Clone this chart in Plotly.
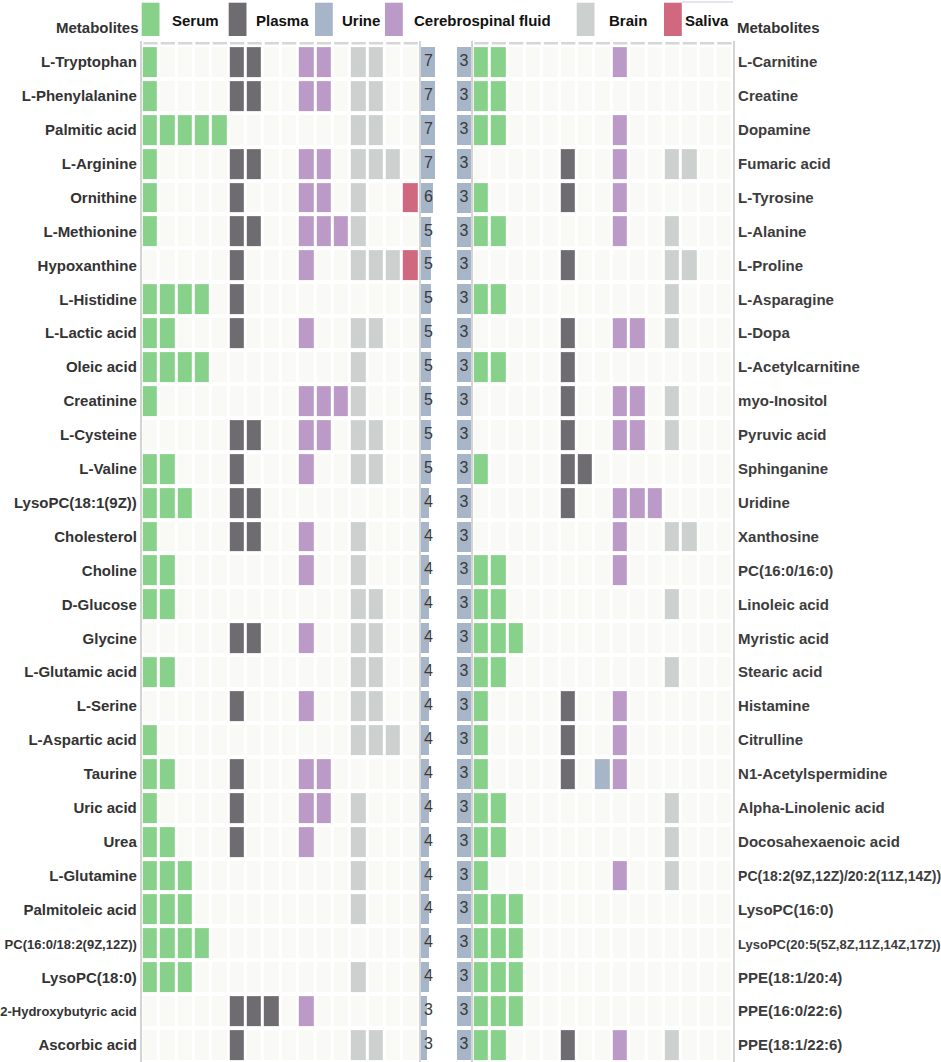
import plotly.graph_objects as go

W, H = 941, 1062
FONT = "Liberation Sans, Arial, Helvetica, sans-serif"

categories = ["Serum", "Plasma", "Urine", "Cerebrospinal fluid", "Brain", "Saliva"]
cat_colors = ["#88d18a", "#6f6c71", "#a7b5c8", "#bc9ac8", "#ccd1cf", "#d0687f"]
empty_color = "#f9f9f5"

# left block
left_names = ["L-Tryptophan", "L-Phenylalanine", "Palmitic acid", "L-Arginine", "Ornithine",
              "L-Methionine", "Hypoxanthine", "L-Histidine", "L-Lactic acid", "Oleic acid",
              "Creatinine", "L-Cysteine", "L-Valine", "LysoPC(18:1(9Z))", "Cholesterol",
              "Choline", "D-Glucose", "Glycine", "L-Glutamic acid", "L-Serine",
              "L-Aspartic acid", "Taurine", "Uric acid", "Urea", "L-Glutamine",
              "Palmitoleic acid", "PC(16:0/18:2(9Z,12Z))", "LysoPC(18:0)",
              "2-Hydroxybutyric acid", "Ascorbic acid"]
left_serum = [1, 1, 5, 1, 1, 1, 0, 4, 2, 4, 1, 0, 2, 3, 1, 2, 2, 0, 2, 0, 1, 2, 1, 2, 3, 3, 4, 3, 0, 0]
left_plasma = [2, 2, 0, 2, 1, 2, 1, 1, 1, 0, 0, 2, 1, 2, 2, 0, 0, 2, 0, 1, 0, 1, 1, 1, 0, 0, 0, 0, 3, 1]
left_urine = [0] * 30
left_csf = [2, 2, 0, 2, 2, 3, 1, 0, 1, 0, 3, 2, 1, 0, 1, 1, 0, 1, 0, 1, 0, 2, 2, 1, 0, 0, 0, 0, 1, 0]
left_brain = [2, 2, 2, 3, 1, 1, 3, 0, 2, 1, 1, 2, 2, 0, 1, 1, 2, 2, 2, 2, 3, 0, 1, 1, 1, 1, 0, 1, 0, 2]
left_saliva = [0, 0, 0, 0, 1, 0, 1] + [0] * 23
left_total = [7, 7, 7, 7, 6, 5, 5, 5, 5, 5, 5, 5, 5, 4, 4, 4, 4, 4, 4, 4, 4, 4, 4, 4, 4, 4, 4, 4, 3, 3]

# right block
right_names = ["L-Carnitine", "Creatine", "Dopamine", "Fumaric acid", "L-Tyrosine",
               "L-Alanine", "L-Proline", "L-Asparagine", "L-Dopa", "L-Acetylcarnitine",
               "myo-Inositol", "Pyruvic acid", "Sphinganine", "Uridine", "Xanthosine",
               "PC(16:0/16:0)", "Linoleic acid", "Myristic acid", "Stearic acid", "Histamine",
               "Citrulline", "N1-Acetylspermidine", "Alpha-Linolenic acid", "Docosahexaenoic acid",
               "PC(18:2(9Z,12Z)/20:2(11Z,14Z))", "LysoPC(16:0)",
               "LysoPC(20:5(5Z,8Z,11Z,14Z,17Z))", "PPE(18:1/20:4)", "PPE(16:0/22:6)",
               "PPE(18:1/22:6)"]
right_serum = [2, 2, 2, 0, 1, 2, 0, 2, 0, 2, 0, 0, 1, 0, 0, 2, 2, 3, 2, 1, 1, 1, 2, 2, 1, 3, 3, 3, 3, 2]
right_plasma = [0, 0, 0, 1, 1, 0, 1, 0, 1, 1, 1, 1, 2, 1, 0, 0, 0, 0, 0, 1, 1, 1, 0, 0, 0, 0, 0, 0, 0, 1]
right_urine = [0] * 21 + [1] + [0] * 8
right_csf = [1, 0, 1, 1, 1, 1, 0, 0, 2, 0, 2, 2, 0, 3, 1, 1, 0, 0, 0, 1, 1, 1, 0, 0, 1, 0, 0, 0, 0, 1]
right_brain = [0, 0, 0, 2, 0, 1, 2, 1, 1, 0, 1, 1, 0, 0, 2, 0, 1, 0, 1, 0, 0, 0, 1, 1, 1, 0, 0, 0, 0, 1]
right_saliva = [0] * 30
right_total = [3] * 30

# first slot of each category block
left_start = [0, 5, 8, 9, 12, 15]
right_start = [0, 5, 7, 8, 11, 14]
left_ncols, right_ncols = 16, 15

# long names are set smaller so they fit
small_labels = {"PC(16:0/18:2(9Z,12Z))": 13, "2-Hydroxybutyric acid": 13,
                "PC(18:2(9Z,12Z)/20:2(11Z,14Z))": 14, "LysoPC(20:5(5Z,8Z,11Z,14Z,17Z))": 13}


def build_z(counts, starts, ncols):
    z = [[0] * ncols for _ in range(len(counts[0]))]
    for k, (vals, start) in enumerate(zip(counts, starts)):
        for r, v in enumerate(vals):
            for j in range(v):
                z[r][start + j] = k + 1
    return z


def label(name):
    if name in small_labels:
        return "<span style='font-size:%spx'>%s</span>" % (small_labels[name], name)
    return name


def px(x):
    return x / W


def py(y):
    return 1 - y / H


left_z = build_z([left_serum, left_plasma, left_urine, left_csf, left_brain, left_saliva],
                 left_start, left_ncols)
right_z = build_z([right_serum, right_plasma, right_urine, right_csf, right_brain, right_saliva],
                  right_start, right_ncols)

palette = [empty_color] + cat_colors
cscale = []
for i, c in enumerate(palette):
    cscale += [[i / len(palette), c], [(i + 1) / len(palette), c]]

rows = list(range(len(left_names)))

fig = go.Figure()

for z, ncols, xa, ya in [(left_z, left_ncols, "x", "y"), (right_z, right_ncols, "x4", "y2")]:
    fig.add_trace(go.Heatmap(z=z, x=list(range(ncols)), y=rows, colorscale=cscale,
                             zmin=-0.5, zmax=len(palette) - 0.5, showscale=False,
                             xgap=3, ygap=4, hoverinfo="skip", xaxis=xa, yaxis=ya))
    # dashed top edge, one dash per column
    dx, dy = [], []
    for c in range(ncols):
        dx += [c - 0.41, c + 0.41, None]
        dy += [-0.55, -0.55, None]
    fig.add_trace(go.Scatter(x=dx, y=dy, mode="lines", line=dict(color="#d6d6d6", width=2.5),
                             hoverinfo="skip", xaxis=xa, yaxis=ya))

# count bars
fig.add_trace(go.Bar(x=left_total, y=rows, orientation="h", width=0.885,
                     marker=dict(color=cat_colors[2], line=dict(width=0)),
                     hoverinfo="skip", xaxis="x2", yaxis="y"))
fig.add_trace(go.Scatter(x=[3.6] * len(rows), y=rows, mode="text", text=[str(v) for v in left_total],
                         textfont=dict(family=FONT, size=16, color="#3a3a3a"), cliponaxis=False,
                         hoverinfo="skip", xaxis="x2", yaxis="y"))
fig.add_trace(go.Bar(x=right_total, y=rows, orientation="h", width=0.885,
                     marker=dict(color=cat_colors[2], line=dict(width=0)),
                     hoverinfo="skip", xaxis="x3", yaxis="y2"))
fig.add_trace(go.Scatter(x=[1.5] * len(rows), y=rows, mode="text", text=[str(v) for v in right_total],
                         textfont=dict(family=FONT, size=16, color="#3a3a3a"), cliponaxis=False,
                         hoverinfo="skip", xaxis="x3", yaxis="y2"))

ydom = [0, py(41)]
yrange = [29.5, -0.62]
hidden = dict(visible=False, showgrid=False, zeroline=False, fixedrange=True)
ycommon = dict(domain=ydom, range=yrange, tickvals=rows, showgrid=False, zeroline=False,
               showline=True, linecolor="#d4d4d4", linewidth=2, mirror=True, ticks="",
               fixedrange=True)

fig.update_layout(
    width=W, height=H, margin=dict(l=0, r=0, t=0, b=0),
    paper_bgcolor="white", plot_bgcolor="white", showlegend=False, bargap=0,
    font=dict(family=FONT, color="#333333"),
    xaxis=dict(domain=[px(141.8), px(419.4)], range=[-0.5, left_ncols - 0.5], anchor="y", **hidden),
    xaxis2=dict(domain=[px(421), px(436)], range=[0, 7.35], anchor="y", **hidden),
    xaxis3=dict(domain=[px(456.5), px(471.5)], range=[0, 3], anchor="y2", **hidden),
    xaxis4=dict(domain=[px(472.8), px(733.1)], range=[-0.5, right_ncols - 0.5], anchor="y2", **hidden),
    yaxis=dict(anchor="x", side="left", ticktext=[label(n) for n in left_names],
               tickfont=dict(family=FONT, size=15, color="#333333", weight="bold"), **ycommon),
    yaxis2=dict(anchor="x4", side="right", ticktext=[label(n) for n in right_names],
                tickfont=dict(family=FONT, size=15, color="#3c3c3c", weight="bold"), **ycommon),
)

# legend swatches and labels across the top
swatch_x = [141.7, 228.7, 315.0, 385.0, 576.7, 664.0]
text_x = [169.7, 254.0, 339.7, 411.8, 607.0, 682.5]
for name, col, sx, tx in zip(categories, cat_colors, swatch_x, text_x):
    fig.add_shape(type="rect", xref="paper", yref="paper", x0=px(sx), x1=px(sx + 17.8),
                  y0=py(36), y1=py(2.7), fillcolor=col, line=dict(width=0))
    fig.add_annotation(xref="paper", yref="paper", x=px(tx), y=py(21), text=name,
                       showarrow=False, xanchor="left", yanchor="middle",
                       font=dict(family=FONT, size=15, color="#111111", weight="bold"))
fig.add_shape(type="line", xref="paper", yref="paper", x0=px(682), x1=px(733), y0=py(2), y1=py(2),
              line=dict(color="#c9cfe0", width=1))

for x, anchor in [(141, "right"), (734.5, "left")]:
    fig.add_annotation(xref="paper", yref="paper", x=px(x), y=py(27), text="Metabolites",
                       showarrow=False, xanchor=anchor, yanchor="middle",
                       font=dict(family=FONT, size=15, color="#333333", weight="bold"))

# the page's default body margin would push the figure 8px down and right
fig.write_html("out.html", config={"displayModeBar": False},
               post_script="document.body.style.margin='0px';")
